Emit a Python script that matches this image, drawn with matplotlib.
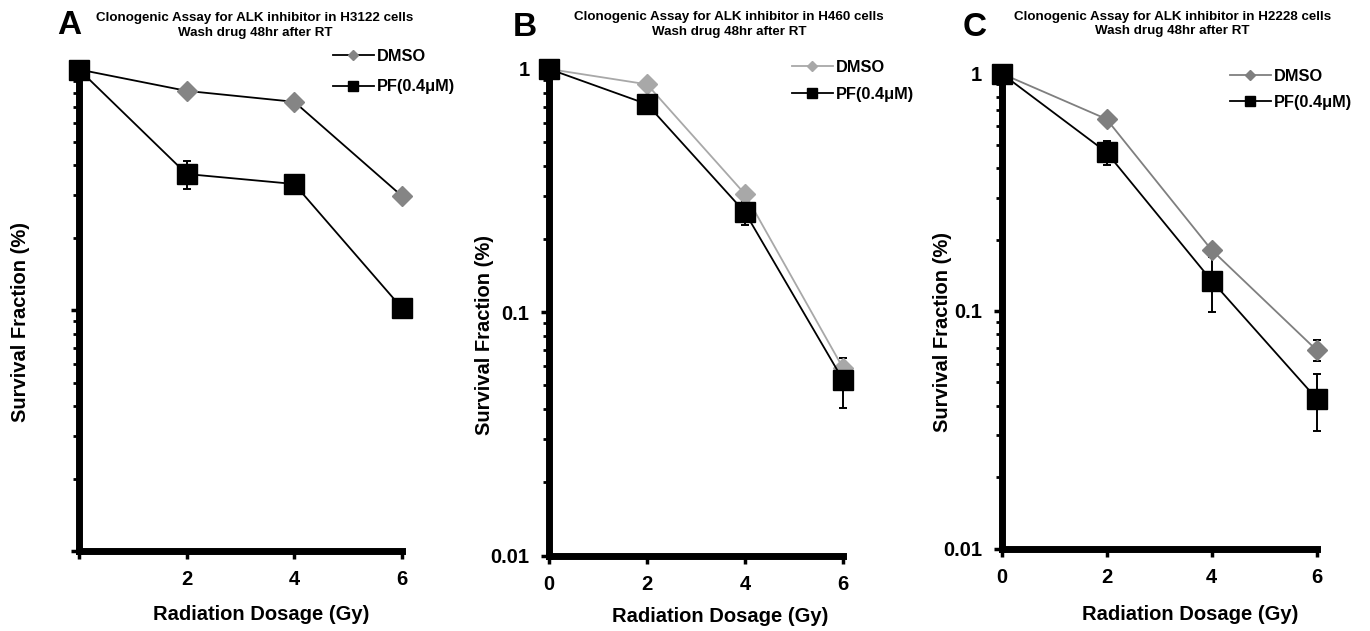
import matplotlib
matplotlib.use("Agg")
import matplotlib.pyplot as plt
from matplotlib.ticker import LogLocator, NullFormatter, FixedLocator, FixedFormatter

plt.rcParams['font.family'] = ['Liberation Sans', 'DejaVu Sans']
plt.rcParams['font.weight'] = 'bold'

# ---- data ----
dose = [0, 2, 4, 6]

# H3122
h3122_dmso = [1.0, 0.815, 0.734, 0.298]
h3122_pf = [1.0, 0.368, 0.3345, 0.102]
h3122_dmso_err = [0, 0, 0, 0]
h3122_pf_err = [0, 0.048, 0, 0.0095]

# H460
h460_dmso = [1.0, 0.865, 0.306, 0.059]
h460_pf = [1.0, 0.717, 0.2574, 0.0527]
h460_dmso_err = [0, 0, 0, 0]
h460_pf_err = [0, 0.05, 0.03, 0.0124]

# H2228
h2228_dmso = [1.0, 0.643, 0.181, 0.0685]
h2228_pf = [1.0, 0.466, 0.1343, 0.0428]
h2228_dmso_err = [0, 0, 0, 0.0072]
h2228_pf_err = [0, 0.054, 0.035, 0.0115]

series_labels = ['DMSO', 'PF(0.4μM)']
panel_letters = ['A', 'B', 'C']
titles = ['Clonogenic Assay for ALK inhibitor in H3122 cells\nWash drug 48hr after RT',
          'Clonogenic Assay for ALK inhibitor in H460 cells\nWash drug 48hr after RT',
          'Clonogenic Assay for ALK inhibitor in H2228 cells\nWash drug 48hr after RT']
x_ticks = [0, 2, 4, 6]
x_ticklabels = [['', '2', '4', '6'], ['0', '2', '4', '6'], ['0', '2', '4', '6']]
y_ticks = [0.01, 0.1, 1]
y_ticklabels = [['', '', ''], ['0.01', '0.1', '1'], ['0.01', '0.1', '1']]
xlabel = 'Radiation Dosage (Gy)'
ylabel = 'Survival Fraction (%)'

W, H = 1370, 631
fig = plt.figure(figsize=(W / 100, H / 100), dpi=100)


def px_axes(left, right, top, bottom):
    return fig.add_axes([left / W, 1 - bottom / H, (right - left) / W, (bottom - top) / H])


panels = [
    dict(box=(79, 402, 69.5, 551), dmso=h3122_dmso, pf=h3122_pf, de=h3122_dmso_err, pe=h3122_pf_err,
         dline='#000000', dmark='#858585', letter=(57, 26), title=(255, 25.5), ylab=(20.5, 322),
         xlab=(261, 615), leg=(333, 71.5), legsp=0.95),
    dict(box=(549, 843, 69, 555.5), dmso=h460_dmso, pf=h460_pf, de=h460_dmso_err, pe=h460_pf_err,
         dline='#a8a8a8', dmark='#a8a8a8', letter=(513, 27), title=(729, 24.5), ylab=(485, 335),
         xlab=(720, 617), leg=(792, 81), legsp=0.75),
    dict(box=(1001.5, 1316.5, 73.5, 548.5), dmso=h2228_dmso, pf=h2228_pf, de=h2228_dmso_err,
         pe=h2228_pf_err, dline='#7f7f7f', dmark='#7f7f7f', letter=(963, 27), title=(1172.5, 24),
         ylab=(943, 332), xlab=(1190, 615), leg=(1230, 89.5), legsp=0.68),
]

for i, p in enumerate(panels):
    ax = px_axes(*p['box'])
    ax.set_yscale('log')
    ax.set_xlim(0, 6)
    ax.set_ylim(0.01, 1)

    # error bars sit behind the markers
    ax.errorbar(dose, p['dmso'], yerr=p['de'], fmt='none', ecolor='black', elinewidth=1.4,
                capsize=3, capthick=1.4, zorder=2, clip_on=False)
    ax.errorbar(dose, p['pf'], yerr=p['pe'], fmt='none', ecolor='black', elinewidth=1.4,
                capsize=3, capthick=1.4, zorder=2, clip_on=False)
    l1, = ax.plot(dose, p['dmso'], color=p['dline'], lw=1.3, marker='D', ms=10.5,
                  mfc=p['dmark'], mec=p['dmark'], label=series_labels[0], zorder=3, clip_on=False)
    l2, = ax.plot(dose, p['pf'], color='black', lw=1.3, marker='s', ms=15,
                  mfc='black', mec='black', label=series_labels[1], zorder=4, clip_on=False)

    for side in ('top', 'right'):
        ax.spines[side].set_visible(False)
    for side in ('left', 'bottom'):
        ax.spines[side].set_linewidth(5)
        ax.spines[side].set_zorder(1)

    ax.xaxis.set_major_locator(FixedLocator(x_ticks))
    ax.xaxis.set_major_formatter(FixedFormatter(x_ticklabels[i]))
    ax.yaxis.set_major_locator(FixedLocator(y_ticks))
    ax.yaxis.set_major_formatter(FixedFormatter(y_ticklabels[i]))
    ax.yaxis.set_minor_locator(LogLocator(base=10, subs=range(2, 10)))
    ax.yaxis.set_minor_formatter(NullFormatter())
    ax.tick_params(axis='both', which='major', direction='out', length=6, width=2.5,
                   labelsize=14.5, pad=8)
    ax.tick_params(axis='y', which='minor', direction='out', length=4.2, width=2)
    for lab in ax.get_xticklabels() + ax.get_yticklabels():
        lab.set_fontweight('bold')

    ax.legend(handles=[l1, l2], loc='center left',
              bbox_to_anchor=(p['leg'][0] / W, 1 - p['leg'][1] / H), bbox_transform=fig.transFigure,
              frameon=False, handlelength=2.5, handletextpad=0.2,
              labelspacing=p['legsp'], borderpad=0, borderaxespad=0, markerscale=0.5,
              prop=dict(weight='bold', size=11.8))

    fig.text(p['letter'][0] / W, 1 - p['letter'][1] / H, panel_letters[i], fontsize=24,
             fontweight='bold', ha='left', va='center')
    fig.text(p['title'][0] / W, 1 - p['title'][1] / H, titles[i], fontsize=9.6,
             fontweight='bold', ha='center', va='center', linespacing=1.25)
    fig.text(p['ylab'][0] / W, 1 - p['ylab'][1] / H, ylabel, fontsize=14.5, fontweight='bold',
             rotation=90, ha='center', va='center')
    fig.text(p['xlab'][0] / W, 1 - p['xlab'][1] / H, xlabel, fontsize=14.5, fontweight='bold',
             ha='center', va='center')

fig.savefig('out.png', dpi=100, facecolor='white')
